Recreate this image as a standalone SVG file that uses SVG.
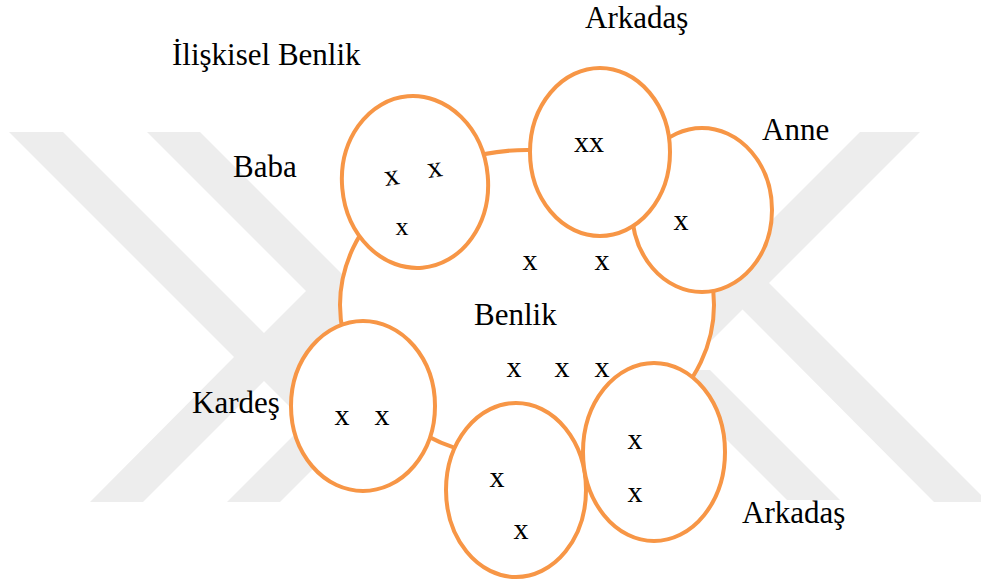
<svg xmlns="http://www.w3.org/2000/svg" width="981" height="583" viewBox="0 0 981 583">
<style>
.wm{fill:#ededed;stroke:none}
.ring{fill:#ffffff;stroke:#f79646;stroke-width:4}
.lbl{font-family:"Liberation Serif","Times New Roman",serif;font-size:31px;fill:#000}
.x{font-family:"Liberation Serif","Times New Roman",serif;font-size:30px;fill:#000;text-anchor:middle}
</style>
<rect width="981" height="583" fill="#ffffff"/>
<g id="watermark">
<polygon class="wm" points="9,132 63,132 264,333 306,291 147,132 200,132 425,357 280,502 227,502 306,423 264,381 143,502 90,502 234,357"/>
<polygon class="wm" points="860,132 920,132 672,380 612,380"/>
<polygon class="wm" points="566,132 618,132 981,495 981,502 934,502"/>
<polygon class="wm" points="657,370 710,370 840,500 787,500"/>
</g>
<g id="benlik">
<ellipse class="ring" cx="527" cy="305" rx="187" ry="155"/>
<text class="lbl" x="474" y="325">Benlik</text>
<text class="x" x="530" y="270">x</text>
<text class="x" x="602" y="270">x</text>
<text class="x" x="514" y="377">x</text>
<text class="x" x="562" y="377">x</text>
<text class="x" x="602" y="377">x</text>
</g>
<g id="baba">
<ellipse class="ring" cx="415" cy="182" rx="73" ry="86" transform="rotate(-5 415 182)"/>
<text class="x" x="392" y="185" transform="rotate(-8 392 178)">x</text>
<text class="x" x="435" y="177" transform="rotate(-8 435 170)">x</text>
<text class="x" x="402" y="235" style="font-size:26px">x</text>
</g>
<g id="anne">
<ellipse class="ring" cx="702" cy="210" rx="70" ry="82"/>
<text class="x" x="681" y="230">x</text>
</g>
<g id="arkadas1">
<ellipse class="ring" cx="600" cy="152" rx="70" ry="84"/>
<text class="x" x="589" y="152">xx</text>
</g>
<g id="kardes">
<ellipse class="ring" cx="363" cy="406" rx="72" ry="85"/>
<text class="x" x="342" y="425">x</text>
<text class="x" x="382" y="425">x</text>
</g>
<g id="bottom">
<ellipse class="ring" cx="516" cy="490" rx="70" ry="87"/>
<text class="x" x="497" y="487">x</text>
<text class="x" x="521" y="539">x</text>
</g>
<g id="arkadas2">
<ellipse class="ring" cx="654" cy="452" rx="71" ry="89"/>
<text class="x" x="635" y="449">x</text>
<text class="x" x="635" y="502">x</text>
</g>
<g id="labels">
<text class="lbl" x="172" y="65">İlişkisel Benlik</text>
<text class="lbl" x="233" y="177">Baba</text>
<text class="lbl" x="585" y="28">Arkadaş</text>
<text class="lbl" x="762" y="140">Anne</text>
<text class="lbl" x="192" y="413">Kardeş</text>
<text class="lbl" x="742" y="523">Arkadaş</text>
</g>
<g id="connectors"></g>
</svg>
